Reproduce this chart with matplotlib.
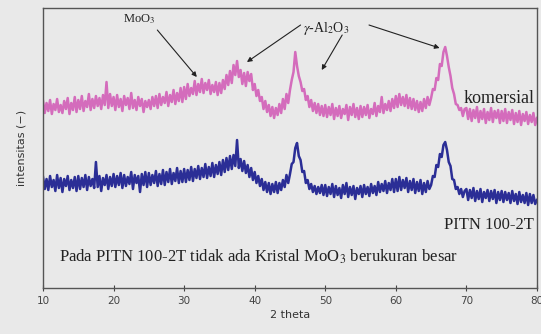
import numpy as np
import matplotlib
matplotlib.use("Agg")
import matplotlib.pyplot as plt

plt.rcParams["mathtext.fontset"] = "stix"
plt.rcParams["path.simplify"] = False

# 2 theta grid, 0.25 deg steps from 10 to 80
two_theta = np.arange(10, 80.001, 0.25)

# intensity (arbitrary units)
komersial = [
    187, 175, 185, 177, 188, 174, 184, 178, 189, 176, 183, 175, 187, 179, 190, 174, 185, 178, 191, 176,
    188, 179, 192, 177, 187, 181, 194, 178, 189, 180, 192, 182, 190, 179, 193, 183, 206, 180, 194, 182,
    191, 178, 193, 181, 189, 177, 192, 183, 190, 179, 195, 180, 188, 178, 191, 182, 189, 176, 187, 181,
    188, 179, 191, 182, 192, 180, 194, 183, 191, 185, 196, 182, 193, 186, 198, 184, 195, 187, 200, 186,
    201, 189, 204, 192, 200, 194, 207, 193, 204, 196, 209, 195, 205, 198, 208, 194, 203, 196, 206, 193,
    205, 195, 208, 199, 213, 203, 217, 205, 223, 213, 227, 211, 218, 204, 215, 202, 216, 207, 214, 198,
    204, 192, 198, 187, 191, 179, 187, 176, 183, 172, 181, 170, 180, 173, 184, 175, 189, 179, 194, 185,
    198, 208, 216, 236, 222, 212, 206, 197, 199, 188, 192, 181, 188, 177, 185, 175, 184, 173, 182, 172,
    183, 171, 181, 173, 184, 169, 180, 172, 182, 170, 179, 174, 183, 168, 181, 173, 184, 171, 180, 169,
    182, 171, 181, 173, 183, 170, 179, 174, 185, 172, 182, 176, 191, 175, 184, 178, 187, 177, 189, 180,
    192, 181, 194, 183, 191, 182, 193, 180, 190, 179, 189, 178, 187, 176, 186, 177, 189, 180, 191, 183,
    190, 199, 198, 210, 208, 224, 222, 236, 241, 232, 221, 212, 200, 194, 184, 183, 178, 180, 172, 179,
    180, 169, 179, 167, 178, 170, 181, 166, 177, 169, 179, 165, 176, 168, 180, 166, 177, 170, 178, 165,
    177, 167, 179, 165, 176, 168, 178, 164, 175, 166, 177, 163, 174, 167, 176, 164, 173, 166, 175, 163,
    170,
]

pitn = [
    111, 99, 109, 98, 112, 101, 108, 97, 113, 100, 110, 96, 109, 102, 112, 98, 108, 100, 111, 97,
    112, 99, 110, 101, 113, 98, 111, 102, 109, 100, 126, 101, 112, 97, 110, 103, 113, 99, 111, 102,
    114, 101, 112, 103, 115, 100, 113, 102, 111, 104, 116, 99, 113, 105, 112, 96, 114, 103, 116, 101,
    115, 103, 113, 105, 117, 102, 114, 104, 118, 103, 116, 106, 119, 104, 115, 107, 120, 105, 117, 106,
    119, 106, 118, 108, 121, 107, 119, 110, 122, 109, 120, 111, 124, 110, 121, 112, 125, 111, 123, 114,
    126, 113, 128, 116, 130, 118, 132, 119, 133, 122, 148, 120, 129, 117, 127, 115, 123, 111, 120, 108,
    116, 105, 112, 102, 109, 98, 106, 96, 105, 94, 104, 96, 106, 95, 105, 98, 108, 101, 113, 105,
    114, 124, 126, 140, 145, 132, 128, 116, 117, 105, 108, 99, 104, 96, 102, 94, 101, 95, 103, 93,
    103, 92, 101, 94, 104, 91, 102, 93, 100, 90, 103, 94, 105, 91, 101, 93, 102, 89, 100, 94,
    102, 91, 103, 94, 101, 92, 104, 95, 102, 93, 106, 96, 104, 97, 107, 95, 105, 98, 109, 96,
    109, 97, 111, 98, 108, 100, 110, 96, 107, 98, 109, 95, 106, 97, 108, 94, 105, 96, 107, 99,
    103, 112, 111, 123, 121, 134, 131, 143, 146, 138, 126, 122, 109, 108, 99, 101, 94, 99, 91, 97,
    99, 88, 98, 90, 100, 87, 97, 89, 99, 86, 96, 90, 98, 87, 97, 89, 98, 85, 96, 88,
    97, 86, 96, 88, 95, 85, 97, 87, 94, 84, 96, 86, 93, 85, 95, 83, 94, 85, 93, 84,
    88,
]

xticks = [10, 20, 30, 40, 50, 60, 70, 80]

bg = "#e9e9e9"
serif = "Liberation Serif"

fig = plt.figure(figsize=(5.41, 3.34), dpi=100, facecolor=bg)
ax = fig.add_axes([0.0795, 0.1377, 0.913, 0.8383], facecolor=bg)

ax.plot(two_theta, komersial, color="#d46cbc", lw=1.8)
ax.plot(two_theta, pitn, color="#2b2e96", lw=1.8)

ax.set_xlim(10, 80)
ax.set_ylim(0, 280)
ax.set_xticks(xticks)
ax.set_yticks([])
ax.tick_params(axis="x", direction="inout", length=5, labelsize=7.5, colors="#444444", pad=3)
for s in ax.spines.values():
    s.set_color("#555555")
    s.set_linewidth(1.0)

ax.set_xlabel("2 theta", fontsize=8, color="#333333", labelpad=3)
ax.set_ylabel("intensitas (−)", fontsize=8, color="#333333", labelpad=12)

# annotations
arrow = dict(arrowstyle="-|>", color="#222222", lw=0.8, mutation_scale=7, shrinkA=0, shrinkB=0)
ax.annotate("", xy=(31.8, 211), xytext=(26.2, 258), arrowprops=arrow)
ax.text(21.3, 269, r"MoO$_3$", fontsize=9, family=serif, color="#222222", va="center")

ax.text(46.9, 260, r"$\gamma$-Al$_2$O$_3$", fontsize=10, family=serif, color="#222222", va="center")
ax.annotate("", xy=(38.9, 226), xytext=(46.5, 263), arrowprops=arrow)
ax.annotate("", xy=(49.5, 218), xytext=(52.4, 253), arrowprops=arrow)
ax.annotate("", xy=(66.2, 240), xytext=(56.2, 263), arrowprops=arrow)

ax.text(79.7, 190, "komersial", fontsize=13, family=serif, color="#222222",
        ha="right", va="center")
ax.text(79.5, 63, "PITN 100-2T", fontsize=12, family=serif, color="#222222",
        ha="right", va="center")
ax.text(12.3, 31, r"Pada PITN 100-2T tidak ada Kristal MoO$_3$ berukuran besar",
        fontsize=12, family=serif, color="#222222", va="center")

fig.savefig("out.png", dpi=100, facecolor=bg)
